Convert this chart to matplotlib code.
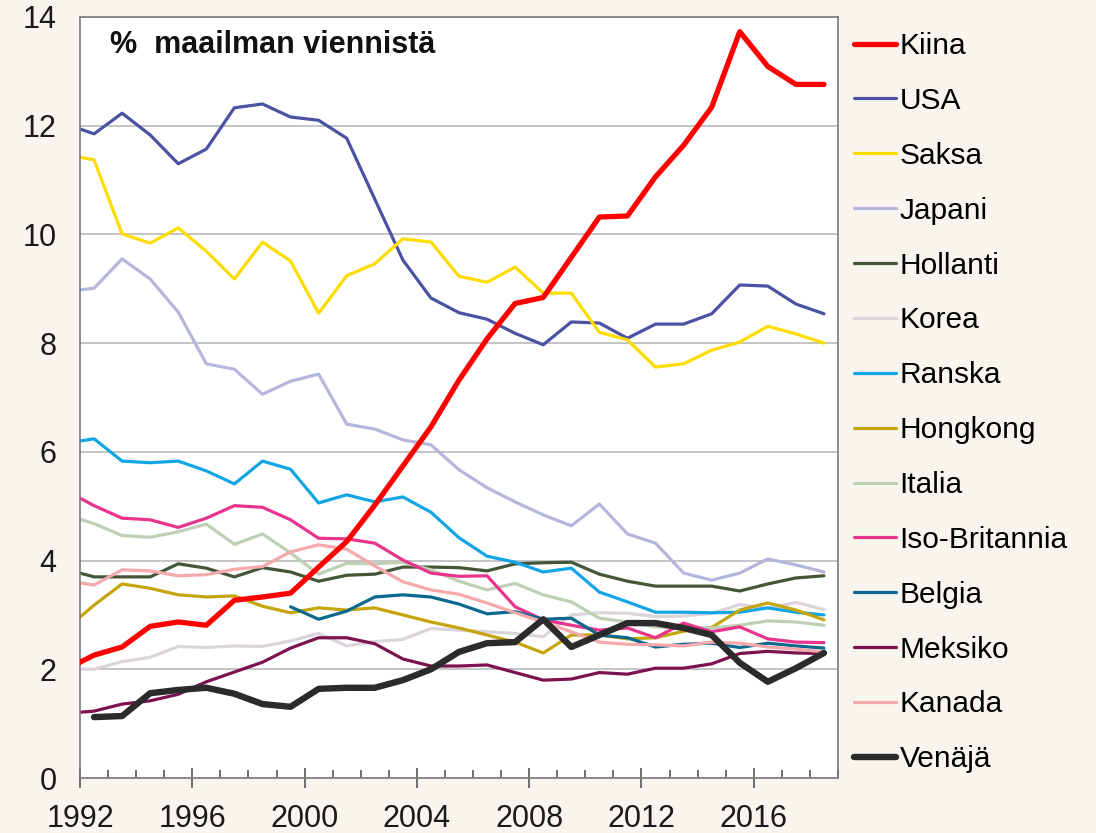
import numpy as np
import matplotlib
matplotlib.use("Agg")
import matplotlib.pyplot as plt
from matplotlib.ticker import MultipleLocator, FixedLocator

plt.rcParams['font.family'] = ['Liberation Sans', 'DejaVu Sans']

nan = np.nan
years = list(range(1991, 2019))

kiina = [2.00, 2.26, 2.41, 2.79, 2.87, 2.81, 3.27, 3.33, 3.40, 3.88, 4.35, 5.02, 5.74, 6.46,
         7.32, 8.08, 8.73, 8.84, 9.58, 10.32, 10.34, 11.06, 11.64, 12.34, 13.73, 13.09, 12.76, 12.76]
usa = [12.03, 11.85, 12.23, 11.83, 11.30, 11.57, 12.33, 12.40, 12.16, 12.10, 11.77, 10.65, 9.53, 8.83,
       8.56, 8.44, 8.18, 7.97, 8.39, 8.37, 8.09, 8.35, 8.35, 8.54, 9.07, 9.05, 8.72, 8.54]
saksa = [11.47, 11.37, 10.01, 9.84, 10.12, 9.69, 9.18, 9.86, 9.51, 8.55, 9.24, 9.46, 9.92, 9.86,
         9.23, 9.12, 9.40, 8.92, 8.92, 8.20, 8.06, 7.56, 7.62, 7.87, 8.02, 8.31, 8.17, 8.00]
japani = [8.95, 9.01, 9.55, 9.18, 8.57, 7.62, 7.52, 7.06, 7.30, 7.43, 6.51, 6.42, 6.22, 6.13,
          5.67, 5.34, 5.08, 4.84, 4.64, 5.04, 4.49, 4.32, 3.77, 3.64, 3.77, 4.03, 3.92, 3.79]
hollanti = [3.84, 3.70, 3.70, 3.70, 3.94, 3.86, 3.70, 3.87, 3.79, 3.62, 3.73, 3.75, 3.88, 3.88,
            3.87, 3.81, 3.94, 3.96, 3.97, 3.75, 3.62, 3.53, 3.53, 3.53, 3.44, 3.57, 3.68, 3.72]
korea = [2.00, 2.00, 2.14, 2.22, 2.42, 2.40, 2.43, 2.42, 2.52, 2.66, 2.43, 2.51, 2.55, 2.75,
         2.72, 2.69, 2.66, 2.60, 3.00, 3.04, 3.03, 2.97, 2.98, 3.03, 3.19, 3.12, 3.23, 3.10]
ranska = [6.16, 6.24, 5.83, 5.80, 5.83, 5.65, 5.41, 5.83, 5.68, 5.06, 5.21, 5.08, 5.17, 4.89,
          4.42, 4.08, 3.97, 3.79, 3.86, 3.42, 3.24, 3.05, 3.05, 3.04, 3.05, 3.13, 3.05, 3.00]
hongkong = [2.74, 3.18, 3.57, 3.49, 3.37, 3.33, 3.35, 3.16, 3.04, 3.13, 3.09, 3.13, 3.00, 2.87,
            2.76, 2.63, 2.50, 2.30, 2.63, 2.63, 2.56, 2.58, 2.70, 2.77, 3.09, 3.22, 3.09, 2.91]
italia = [4.84, 4.68, 4.46, 4.43, 4.53, 4.67, 4.30, 4.49, 4.14, 3.75, 3.95, 3.94, 3.97, 3.83,
          3.62, 3.46, 3.58, 3.37, 3.24, 2.94, 2.87, 2.78, 2.76, 2.76, 2.81, 2.89, 2.87, 2.81]
iso_britannia = [5.29, 5.01, 4.78, 4.75, 4.61, 4.78, 5.01, 4.98, 4.75, 4.41, 4.40, 4.32, 4.01, 3.77,
                 3.71, 3.72, 3.15, 2.91, 2.81, 2.72, 2.76, 2.58, 2.85, 2.69, 2.78, 2.56, 2.50, 2.49]
belgia = [nan, nan, nan, nan, nan, nan, nan, nan, 3.15, 2.92, 3.07, 3.33, 3.37, 3.33,
          3.20, 3.02, 3.06, 2.92, 2.94, 2.63, 2.58, 2.41, 2.46, 2.48, 2.40, 2.48, 2.43, 2.39]
meksiko = [1.19, 1.23, 1.36, 1.42, 1.54, 1.77, 1.95, 2.13, 2.39, 2.58, 2.58, 2.47, 2.19, 2.06,
           2.06, 2.08, 1.94, 1.80, 1.82, 1.94, 1.91, 2.02, 2.02, 2.10, 2.29, 2.33, 2.30, 2.29]
kanada = [3.63, 3.55, 3.83, 3.81, 3.72, 3.74, 3.84, 3.89, 4.16, 4.29, 4.21, 3.90, 3.61, 3.46,
          3.38, 3.22, 3.04, 2.87, 2.69, 2.50, 2.46, 2.45, 2.43, 2.50, 2.48, 2.41, 2.37, 2.32]
venaja = [nan, 1.12, 1.14, 1.56, 1.62, 1.66, 1.55, 1.36, 1.31, 1.64, 1.66, 1.66, 1.80, 2.00,
          2.32, 2.48, 2.50, 2.92, 2.41, 2.63, 2.85, 2.85, 2.76, 2.63, 2.12, 1.77, 2.02, 2.30]

labels = ["Kiina", "USA", "Saksa", "Japani", "Hollanti", "Korea", "Ranska", "Hongkong",
          "Italia", "Iso-Britannia", "Belgia", "Meksiko", "Kanada", "Venäjä"]
series = [kiina, usa, saksa, japani, hollanti, korea, ranska, hongkong,
          italia, iso_britannia, belgia, meksiko, kanada, venaja]
colors = ["#ff0000", "#4b52a3", "#ffdc00", "#b4b6dc", "#435638", "#dcd4dc", "#12a6e6", "#c4a50c",
          "#bdd0b5", "#e8348c", "#0d6890", "#7c134f", "#f6a9ab", "#2b2b2b"]
widths = [3.8, 2.3, 2.3, 2.3, 2.3, 2.3, 2.3, 2.3, 2.3, 2.3, 2.3, 2.3, 2.3, 4.6]
zorders = [4, 2, 2, 2, 2, 2, 2, 2, 2, 2, 2, 2, 2, 5]

fig = plt.figure(figsize=(10.96, 8.33), dpi=100)
fig.patch.set_facecolor("#f8f4ee")
ax = fig.add_axes([80 / 1096, 55 / 833, 758 / 1096, 761 / 833])
ax.set_facecolor("white")

x = np.array(years) + 0.5
handles = []
for lab, s, c, w, z in zip(labels, series, colors, widths, zorders):
    h, = ax.plot(x, s, color=c, lw=w, label=lab, zorder=z, solid_capstyle="round",
                 solid_joinstyle="round")
    handles.append(h)

ax.set_xlim(1992, 2019)
ax.set_ylim(0, 14)
ax.yaxis.set_major_locator(MultipleLocator(2))
ax.xaxis.set_major_locator(FixedLocator([1992, 1996, 2000, 2004, 2008, 2012, 2016]))
ax.xaxis.set_minor_locator(MultipleLocator(1))
ax.grid(axis="y", color="#c4c4c4", lw=1.4, zorder=0)
ax.set_axisbelow(True)

for sp in ax.spines.values():
    sp.set_color("#7a7a7a")
    sp.set_linewidth(1.2)

ax.tick_params(axis="y", length=0, pad=17, labelsize=22, colors="#1a1a1a")
ax.tick_params(axis="x", which="major", direction="inout", length=14, width=1.2,
               color="#555555", pad=12, labelsize=22, labelcolor="#1a1a1a")
ax.tick_params(axis="x", which="minor", direction="in", length=6, width=1.2, color="#555555")

ax.text(0.04, 0.963, "%  maailman viennistä", transform=ax.transAxes, fontsize=22,
        fontweight="bold", va="center", ha="left", color="#111111")

fig.legend(handles=handles, labels=labels, loc="upper left",
           bbox_to_anchor=(854 / 1096, 1 - 32 / 833), frameon=False, fontsize=21.5,
           handlelength=1.4, handletextpad=0.12, labelspacing=0.9, borderaxespad=0,
           borderpad=0)

fig.savefig("out.png", dpi=100, facecolor=fig.get_facecolor())
